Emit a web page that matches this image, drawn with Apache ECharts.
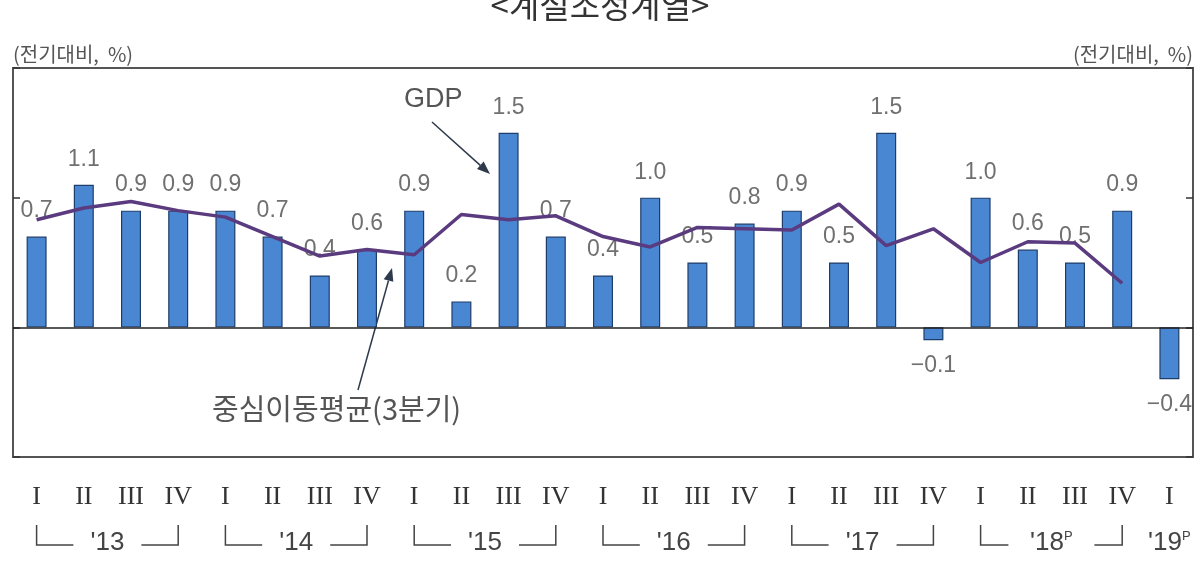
<!DOCTYPE html>
<html>
<head>
<meta charset="utf-8">
<script src="https://cdn.jsdelivr.net/npm/echarts@6/dist/echarts.min.js"></script>
<style>
  html, body { margin: 0; padding: 0; background: #fff; }
  #chart { width: 1200px; height: 572px; }
</style>
</head>
<body>
<div id="chart"></div>
<script>
// 분기 (x축)
var quarters = ['I', 'II', 'III', 'IV', 'I', 'II', 'III', 'IV', 'I', 'II', 'III', 'IV',
  'I', 'II', 'III', 'IV', 'I', 'II', 'III', 'IV', 'I', 'II', 'III', 'IV', 'I']
// 연도 라벨
var years = ["'13", "'14", "'15", "'16", "'17", "'18", "'19"]
var prelim = [false, false, false, false, false, true, true]
// GDP 전기대비 성장률
var gdp = [0.7, 1.1, 0.9, 0.9, 0.9, 0.7, 0.4, 0.6, 0.9, 0.2, 1.5, 0.7,
  0.4, 1.0, 0.5, 0.8, 0.9, 0.5, 1.5, -0.1, 1.0, 0.6, 0.5, 0.9, -0.4]
// 중심이동평균(3분기)
var movingAvg = [0.83, 0.92, 0.97, 0.90, 0.85, 0.70, 0.55, 0.60, 0.56, 0.87, 0.83, 0.86,
  0.70, 0.62, 0.77, 0.76, 0.75, 0.95, 0.63, 0.76, 0.50, 0.66, 0.65, 0.34]

var chart = echarts.init(document.getElementById('chart'))

// 연도 라벨 위치 (분기 인덱스 기준)
var yearPos = years.map(function (y, i) {
  return i < years.length - 1 ? i * 4 + 1.5 : i * 4
})

var korFont = 'Noto Sans CJK KR'
var unitStyle = { color: '#555', fontSize: 20, fontFamily: korFont }
var tickStyle = { show: true, inside: true, length: 7, lineStyle: { color: '#333', width: 1.5 } }

chart.setOption({
  animation: false,
  grid: {
    left: 13,
    right: 7,
    top: 68,
    bottom: 115,
    show: true,
    borderColor: '#555',
    borderWidth: 2
  },
  xAxis: [{
    type: 'category',
    data: quarters,
    axisLine: { show: false, onZero: false },
    axisTick: { show: false },
    axisLabel: {
      margin: 27,
      fontSize: 26,
      fontFamily: 'Liberation Serif',
      color: '#333'
    }
  }, {
    type: 'value',
    position: 'bottom',
    min: -0.5,
    max: 24.5,
    axisLine: { show: false, onZero: false },
    axisTick: { show: false },
    splitLine: { show: false },
    axisLabel: {
      customValues: yearPos,
      margin: 73,
      fontSize: 26,
      fontFamily: 'Liberation Sans',
      color: '#444',
      formatter: function (v) {
        var i = yearPos.indexOf(v)
        if (i < 0) return ''
        return years[i] + (prelim[i] ? '{p|P}' : '')
      },
      rich: {
        p: { fontSize: 13, verticalAlign: 'top', color: '#444', padding: [0, 0, 12, 0] }
      }
    }
  }],
  yAxis: [{
    type: 'value',
    min: -1,
    max: 2,
    interval: 1,
    name: '(전기대비,  %)',
    nameLocation: 'end',
    nameGap: 4,
    nameTextStyle: Object.assign({ align: 'left', padding: [0, 0, 0, 0] }, unitStyle),
    axisLine: { show: false, onZero: false },
    axisLabel: { show: false },
    splitLine: { show: false },
    axisTick: tickStyle
  }, {
    type: 'value',
    position: 'right',
    min: -1,
    max: 2,
    interval: 1,
    name: '(전기대비,  %)',
    nameLocation: 'end',
    nameGap: 4,
    nameTextStyle: Object.assign({ align: 'right', padding: [0, 0, 0, 0] }, unitStyle),
    axisLine: { show: false, onZero: false },
    axisLabel: { show: false },
    splitLine: { show: false },
    axisTick: tickStyle
  }],
  series: [{
    name: 'GDP',
    type: 'bar',
    barWidth: 20,
    data: gdp.map(function (v) {
      return v < 0 ? { value: v, label: { position: 'bottom' } } : v
    }),
    itemStyle: {
      color: '#4a87d3',
      borderColor: '#1f3d6b',
      borderWidth: 1.2
    },
    label: {
      show: true,
      position: 'top',
      distance: 14,
      color: '#707070',
      fontSize: 23,
      fontFamily: 'Liberation Sans',
      formatter: function (p) {
        var v = p.value
        return v < 0 ? '\u2212' + Math.abs(v).toFixed(1) : v.toFixed(1)
      }
    },
    markLine: {
      silent: true,
      symbol: 'none',
      label: { show: false },
      lineStyle: { color: '#222', width: 1.5, type: 'solid' },
      data: [{ yAxis: 0 }]
    }
  }, {
    name: '중심이동평균(3분기)',
    type: 'line',
    data: movingAvg,
    symbol: 'none',
    z: 5,
    lineStyle: { color: '#5b3b7f', width: 3.5 }
  }]
})

// 화살표 그리기
function arrow(x1, y1, x2, y2, color) {
  var a = Math.atan2(y2 - y1, x2 - x1)
  var L = 13, W = 5
  var bx = x2 - L * Math.cos(a), by = y2 - L * Math.sin(a)
  return [{
    type: 'line',
    shape: { x1: x1, y1: y1, x2: bx, y2: by },
    style: { stroke: color, lineWidth: 1.5 }
  }, {
    type: 'polygon',
    shape: {
      points: [[x2, y2],
        [bx + W * Math.sin(a), by - W * Math.cos(a)],
        [bx - W * Math.sin(a), by + W * Math.cos(a)]]
    },
    style: { fill: color }
  }]
}

var graphics = []

// 제목
graphics.push({
  type: 'text',
  left: 'center',
  top: -11,
  style: { text: '<계절조정계열>', fontSize: 33, fontFamily: korFont, fill: '#333' }
})

// GDP 주석
graphics.push({
  type: 'text',
  x: 404,
  y: 100,
  style: { text: 'GDP', fontSize: 27, fontFamily: 'Liberation Sans', fill: '#555', verticalAlign: 'middle' }
})
graphics = graphics.concat(arrow(432, 122, 490, 174, '#2e3a4c'))

// 이동평균 주석
graphics.push({
  type: 'text',
  x: 212,
  y: 409,
  style: { text: '중심이동평균(3분기)', fontSize: 29, fontFamily: korFont, fill: '#555', verticalAlign: 'middle' }
})
graphics = graphics.concat(arrow(358, 390, 392, 268, '#2e3a4c'))

// 연도 괄호
for (var i = 0; i < years.length - 1; i++) {
  var xa = chart.convertToPixel({ xAxisIndex: 0 }, i * 4)
  var xb = chart.convertToPixel({ xAxisIndex: 0 }, i * 4 + 3)
  var mid = (xa + xb) / 2
  var gap = prelim[i] ? 43 : 34
  var st = { stroke: '#444', lineWidth: 1.5, fill: null }
  graphics.push({
    type: 'polyline',
    shape: { points: [[xa, 525], [xa, 545], [mid - gap, 545]] },
    style: st
  })
  graphics.push({
    type: 'polyline',
    shape: { points: [[mid + gap, 545], [xb, 545], [xb, 525]] },
    style: st
  })
}

chart.setOption({ graphic: graphics })

window.addEventListener('resize', function () {
  chart.resize()
})
</script>
</body>
</html>
